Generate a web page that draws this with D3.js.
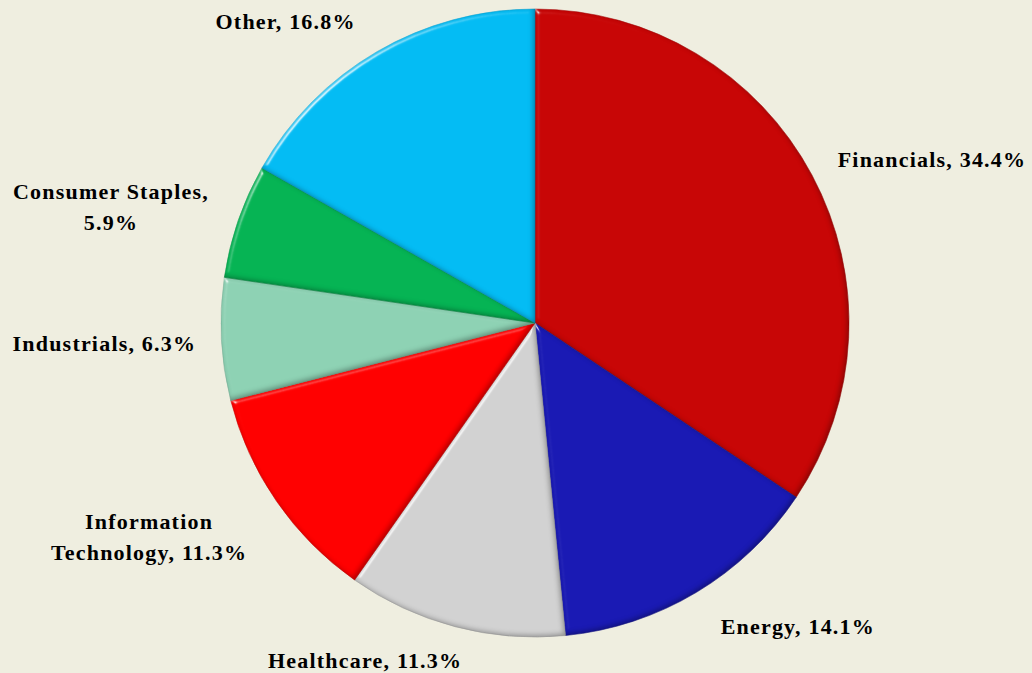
<!DOCTYPE html>
<html>
<head>
<meta charset="utf-8">
<script src="https://cdn.jsdelivr.net/npm/d3@7"></script>
<style>
  html, body { margin: 0; padding: 0; background: #efeee0; }
  #chart { width: 1032px; height: 673px; }
  text { font-family: "Liberation Serif", "Times New Roman", serif; fill: #000; }
</style>
</head>
<body>
<div id="chart"></div>
<script>
// DATA
const sectors = ["Financials", "Energy", "Healthcare", "Information Technology",
                 "Industrials", "Consumer Staples", "Other"];
const shares  = [34.4, 14.1, 11.3, 11.3, 6.3, 5.9, 16.8];
const colors  = ["#c80606", "#1a1ab4", "#d2d2d2", "#ff0000", "#8ed2b4", "#06b454", "#04bcf4"];

// label layout: line breaks and nudges from the label arc
const labelLines = [
  ["Financials, 34.4%"],
  ["Energy, 14.1%"],
  ["Healthcare, 11.3%"],
  ["Information", "Technology, 11.3%"],
  ["Industrials, 6.3%"],
  ["Consumer Staples,", "5.9%"],
  ["Other, 16.8%"]
];
const labelNudge = [[37, 29], [53, -46], [-66, -57], [-50, -18], [-23, 0], [-38, 17], [-44, 51]];

function render() {
  const width  = 1032;
  const height = 673;
  const cx = 535, cy = 323;
  const radius = 314;

  const svg = d3.select('#chart').append('svg')
      .attr('width', width)
      .attr('height', height);

  // bevel: highlight on lit edges, darker rim on the far side
  const defs = svg.append('defs');
  const f = defs.append('filter')
      .attr('id', 'bevel')
      .attr('color-interpolation-filters', 'sRGB')
      .attr('x', '-5%').attr('y', '-5%').attr('width', '110%').attr('height', '110%');
  f.append('feGaussianBlur').attr('in', 'SourceAlpha').attr('stdDeviation', 2.5).attr('result', 'blur');
  f.append('feSpecularLighting')
      .attr('in', 'blur').attr('surfaceScale', 4).attr('specularConstant', 0.8)
      .attr('specularExponent', 30).attr('lighting-color', '#ffffff').attr('result', 'spec')
    .append('feDistantLight').attr('azimuth', 225).attr('elevation', 22);
  f.append('feComposite').attr('in', 'spec').attr('in2', 'SourceAlpha').attr('operator', 'in').attr('result', 'specIn');
  f.append('feOffset').attr('in', 'blur').attr('dx', -2).attr('dy', -2).attr('result', 'off');
  f.append('feComposite').attr('in', 'SourceAlpha').attr('in2', 'off').attr('operator', 'out').attr('result', 'rim');
  f.append('feFlood').attr('flood-color', '#000').attr('flood-opacity', 0.3).attr('result', 'dk');
  f.append('feComposite').attr('in', 'dk').attr('in2', 'rim').attr('operator', 'in').attr('result', 'shade');
  const m = f.append('feMerge');
  m.append('feMergeNode').attr('in', 'SourceGraphic');
  m.append('feMergeNode').attr('in', 'shade');
  m.append('feMergeNode').attr('in', 'specIn');

  const g = svg.append('g')
      .attr('transform', `translate(${cx},${cy})`);

  const pie = d3.pie().sort(null).value(d => d);
  const arcs = pie(shares);

  const arc = d3.arc().innerRadius(0).outerRadius(radius);
  const labelArc = d3.arc().innerRadius(radius * 1.3).outerRadius(radius * 1.3);

  g.selectAll('path.slice')
    .data(arcs)
    .enter()
    .append('path')
      .attr('class', 'slice')
      .attr('d', arc)
      .attr('fill', (d, i) => colors[i])
      .attr('stroke', (d, i) => d3.color(colors[i]).darker(0.4))
      .attr('stroke-width', 0.5)
      .attr('filter', 'url(#bevel)');

  const fontSize = 22;
  const lineH = 31;
  const labels = g.selectAll('text.label')
    .data(arcs)
    .enter()
    .append('text')
      .attr('class', 'label')
      .attr('text-anchor', 'middle')
      .style('font-size', fontSize + 'px')
      .style('font-weight', 'bold')
      .style('letter-spacing', '1.2px')
      .attr('transform', (d, i) => {
        const c = labelArc.centroid(d);
        return `translate(${c[0] + labelNudge[i][0]},${c[1] + labelNudge[i][1]})`;
      });

  labels.each(function(d, i) {
    const lines = labelLines[i];
    const t = d3.select(this);
    lines.forEach((ln, j) => {
      t.append('tspan')
        .attr('x', 0)
        .attr('y', (j - (lines.length - 1) / 2) * lineH + fontSize * 0.33)
        .text(ln);
    });
  });
}

window.onload = render;
</script>
</body>
</html>
